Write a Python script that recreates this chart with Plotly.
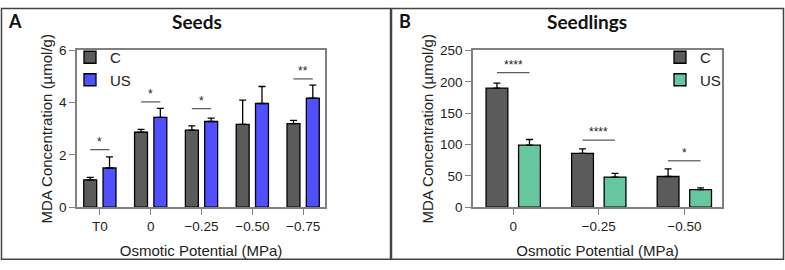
import plotly.graph_objects as go

# ---------- data ----------
seeds_cats = ["T0", "0", "\u22120.25", "\u22120.50", "\u22120.75"]
seeds_c = [1.05, 2.87, 2.95, 3.17, 3.20]
seeds_c_err = [0.09, 0.11, 0.16, 0.93, 0.12]
seeds_us = [1.50, 3.44, 3.28, 3.97, 4.17]
seeds_us_err = [0.43, 0.34, 0.13, 0.65, 0.50]
seeds_sig = ["*", "*", "*", "", "**"]
seeds_sig_y = [2.2, 4.03, 3.77, None, 4.91]

seedl_cats = ["0", "\u22120.25", "\u22120.50"]
seedl_c = [190, 86, 49]
seedl_c_err = [8, 7, 12]
seedl_us = [99, 48, 28]
seedl_us_err = [9, 6, 3]
seedl_sig = ["****", "****", "*"]
seedl_sig_y = [214.5, 107, 74]

# ---------- styles ----------
C_COLOR = "#5b5b5b"
US_A = "#5050ff"
US_B = "#66c69f"
AX = "#808080"
FONT = "Liberation Sans"
W, H = 785, 270

fig = go.Figure()

def add_bars(cats, c, ce, us, ue, us_color, xa, ya, leg):
    fig.add_trace(go.Bar(
        x=cats, y=c, name="C", marker=dict(color=C_COLOR, line=dict(color="black", width=1.3)),
        error_y=dict(type="data", symmetric=False, array=ce, arrayminus=[0]*len(ce),
                     color="black", thickness=1.3, width=3.5),
        xaxis=xa, yaxis=ya, legend=leg))
    fig.add_trace(go.Bar(
        x=cats, y=us, name="US", marker=dict(color=us_color, line=dict(color="black", width=1.3)),
        error_y=dict(type="data", symmetric=False, array=ue, arrayminus=[0]*len(ue),
                     color="black", thickness=1.3, width=3.5),
        xaxis=xa, yaxis=ya, legend=leg))

add_bars(seeds_cats, seeds_c, seeds_c_err, seeds_us, seeds_us_err, US_A, "x", "y", "legend")
add_bars(seedl_cats, seedl_c, seedl_c_err, seedl_us, seedl_us_err, US_B, "x2", "y2", "legend2")

shapes = []
annotations = []

def add_sig(sigs, ys, xr, yr):
    for i, (s, yv) in enumerate(zip(sigs, ys)):
        if not s or yv is None:
            continue
        shapes.append(dict(type="line", xref=xr, yref=yr, x0=i - 0.19, x1=i + 0.19,
                           y0=yv, y1=yv, line=dict(color="#333333", width=1)))
        annotations.append(dict(xref=xr, yref=yr, x=i, y=yv, text=s, showarrow=False,
                                yanchor="bottom", yshift=-1,
                                font=dict(family=FONT, size=12, color="#222")))

add_sig(seeds_sig, seeds_sig_y, "x", "y")
add_sig(seedl_sig, seedl_sig_y, "x2", "y2")

# panel frames
shapes.append(dict(type="rect", xref="paper", yref="paper",
                   x0=1.5/W, x1=390.5/W, y0=1-267/H, y1=1-1.5/H,
                   line=dict(color="#444", width=1.5)))
shapes.append(dict(type="rect", xref="paper", yref="paper",
                   x0=391.5/W, x1=783.5/W, y0=1-267/H, y1=1-1.5/H,
                   line=dict(color="#444", width=1.5)))

# panel labels and titles
for txt, xpx, sz in [("A", 15, 18), ("Seeds", 197, 19), ("B", 405, 18), ("Seedlings", 587, 19)]:
    annotations.append(dict(xref="paper", yref="paper", x=xpx/W, y=1-15/H, text=f"<b>{txt}</b>",
                            showarrow=False, xanchor="center", yanchor="middle",
                            font=dict(family="Lato", size=sz, color="#111")))

ydom = [1-212/H, 1-46/H]
axis_common = dict(showline=True, linecolor=AX, linewidth=1.5, mirror=True,
                   ticks="outside", ticklen=6, tickcolor=AX, tickwidth=1.3,
                   showgrid=False, zeroline=False,
                   tickfont=dict(family=FONT, size=13.5, color="#222"))

fig.update_layout(
    width=W, height=H, margin=dict(l=0, r=0, t=0, b=0),
    paper_bgcolor="white", plot_bgcolor="white",
    barmode="group", bargap=0.24, bargroupgap=0.33,
    font=dict(family=FONT, color="#222"),
    xaxis=dict(domain=[77/W, 325/W], anchor="y", range=[-0.45, 4.43],
               title=dict(text="Osmotic Potential (MPa)", font=dict(size=15), standoff=12), **axis_common),
    yaxis=dict(domain=ydom, anchor="x", range=[0, 6], dtick=2,
               title=dict(text="MDA Concentration (\u00b5mol/g)", font=dict(size=15), standoff=3), **axis_common),
    xaxis2=dict(domain=[473/W, 722/W], anchor="y2", range=[-0.47, 2.44],
                title=dict(text="Osmotic Potential (MPa)", font=dict(size=15), standoff=12), **axis_common),
    yaxis2=dict(domain=ydom, anchor="x2", range=[0, 250], dtick=50,
                title=dict(text="MDA Concentration (\u00b5mol/g)", font=dict(size=15), standoff=3), **axis_common),
    legend=dict(x=70/W, y=1-36/H, xanchor="left", yanchor="top", bgcolor="rgba(0,0,0,0)",
                font=dict(family=FONT, size=15, color="#222"), itemwidth=30),
    legend2=dict(x=660/W, y=1-36/H, xanchor="left", yanchor="top", bgcolor="rgba(0,0,0,0)",
                 font=dict(family=FONT, size=15, color="#222"), itemwidth=30),
    shapes=shapes, annotations=annotations,
)

fig.write_html("out.html")
